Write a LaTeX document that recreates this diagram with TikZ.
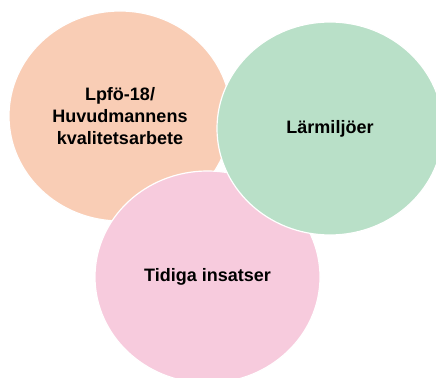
\documentclass[tikz,border=0pt]{standalone}
\usepackage{fontspec}
\setmainfont{Liberation Sans}
\usetikzlibrary{shapes.geometric}
\definecolor{peach}{HTML}{F9CDB5}
\definecolor{mint}{HTML}{B9E0C8}
\definecolor{rose}{HTML}{F7CBDD}
\begin{document}
\begin{tikzpicture}[x=0.75pt,y=-0.75pt,
  blob/.style={ellipse, draw=white, line width=0.9pt, inner sep=0pt, outer sep=0pt,
    align=center, font=\bfseries\fontsize{13.5}{16.3}\selectfont, text=black}]
\useasboundingbox (0,0) rectangle (436,378);
\node[blob, fill=peach, minimum width=166.5pt, minimum height=157.5pt] (lpfo) at (120,116) {Lpfö-18/\\Huvudmannens\\kvalitetsarbete};
\node[blob, fill=rose, minimum width=168.75pt, minimum height=159pt] (tidiga) at (207.5,277) {Tidiga insatser};
\node[blob, fill=mint, minimum width=169.5pt, minimum height=159.75pt] (lar) at (330,128.5) {Lärmiljöer};
\end{tikzpicture}
\end{document}
